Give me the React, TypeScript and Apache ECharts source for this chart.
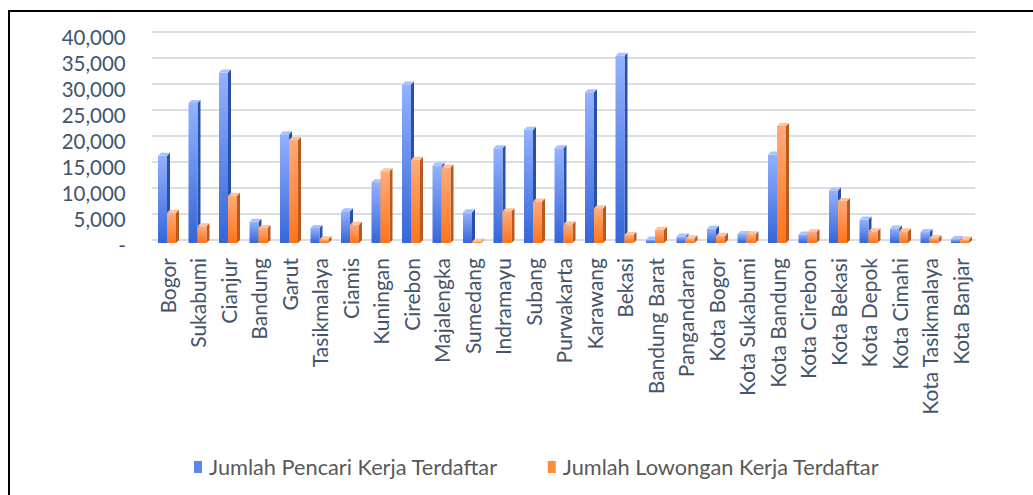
import React, { useEffect, useRef } from "react";
import * as echarts from "echarts";

const categories = [
  "Bogor", "Sukabumi", "Cianjur", "Bandung", "Garut", "Tasikmalaya", "Ciamis",
  "Kuningan", "Cirebon", "Majalengka", "Sumedang", "Indramayu", "Subang",
  "Purwakarta", "Karawang", "Bekasi", "Bandung Barat", "Pangandaran",
  "Kota Bogor", "Kota Sukabumi", "Kota Bandung", "Kota Cirebon", "Kota Bekasi",
  "Kota Depok", "Kota Cimahi", "Kota Tasikmalaya", "Kota Banjar",
];

const pencariKerja = [
  16800, 26900, 32800, 4100, 20900, 2900, 6100, 11700, 30500, 14900, 5900,
  18200, 21800, 18200, 29000, 36000, 650, 1250, 2750, 1750, 17000, 1650, 10100,
  4500, 2800, 2100, 750,
];

const lowonganKerja = [
  5800, 3200, 9100, 2900, 19800, 700, 3500, 13800, 16000, 14500, 250, 6100,
  8000, 3600, 6700, 1550, 2550, 900, 1400, 1700, 22500, 2100, 8100, 2250, 2250,
  950, 650,
];

const yTicks = [0, 5000, 10000, 15000, 20000, 25000, 30000, 35000, 40000];

const seriesNames = ["Jumlah Pencari Kerja Terdaftar", "Jumlah Lowongan Kerja Terdaftar"];

const FONT = "Lato, 'Open Sans', sans-serif";

const palettes = [
  { front0: "#93B2FF", front1: "#3565D8", side: "#2A4FA8", cap: "#A9C1FF" },
  { front0: "#FFAB7C", front1: "#FF7417", side: "#B85A1E", cap: "#FFC29B" },
];

function make3DRender(seriesIndex: number) {
  const p = palettes[seriesIndex];
  return (params: any, api: any) => {
    const idx = api.value(0);
    const v = api.value(1);
    const base = api.coord([idx, 0]);
    const topPt = api.coord([idx, v]);
    const w = 9;
    const d = 3;
    const c = base[0];
    const x0 = seriesIndex === 0 ? c - w : c;
    const yTop = topPt[1] + d;
    const yBot = base[1] + d;
    const h = Math.max(0, yBot - yTop);
    return {
      type: "group",
      children: [
        {
          type: "polygon",
          shape: {
            points: [
              [x0 + w, yTop],
              [x0 + w + d, yTop - d],
              [x0 + w + d, yBot - d],
              [x0 + w, yBot],
            ],
          },
          style: { fill: p.side },
        },
        {
          type: "rect",
          shape: { x: x0, y: yTop, width: w, height: h },
          style: {
            fill: new echarts.graphic.LinearGradient(0, 0, 0, 1, [
              { offset: 0, color: p.front0 },
              { offset: 1, color: p.front1 },
            ]),
          },
        },
        {
          type: "polygon",
          shape: {
            points: [
              [x0, yTop],
              [x0 + d, yTop - d],
              [x0 + w + d, yTop - d],
              [x0 + w, yTop],
            ],
          },
          style: { fill: p.cap },
        },
      ],
    };
  };
}

export default function App() {
  const ref = useRef<HTMLDivElement>(null);

  useEffect(() => {
    if (!ref.current) return;
    const chart = echarts.init(ref.current, null, { renderer: "svg" });
    const seriesData = [pencariKerja, lowonganKerja];
    chart.setOption({
      animation: false,
      backgroundColor: "#ffffff",
      grid: { left: 151.75, right: 57.75, top: 32, bottom: 255, containLabel: false },
      legend: {
        left: 189,
        top: 451,
        itemGap: 50,
        itemWidth: 8,
        itemHeight: 12,
        icon: "rect",
        textStyle: { fontFamily: FONT, fontSize: 21.75, color: "#595959", padding: [0, 0, 0, 2] },
        data: [
          { name: seriesNames[0], itemStyle: { color: "#5B86EE" } },
          { name: seriesNames[1], itemStyle: { color: "#FF8A3D" } },
        ],
      },
      xAxis: {
        type: "category",
        data: categories,
        axisLine: { show: false },
        axisTick: { show: false },
        axisLabel: {
          interval: 0,
          rotate: 90,
          margin: 18,
          fontFamily: FONT,
          fontSize: 21,
          color: "#44546A",
        },
      },
      yAxis: {
        type: "value",
        min: yTicks[0],
        max: yTicks[yTicks.length - 1],
        interval: yTicks[1] - yTicks[0],
        axisLine: { show: false },
        axisTick: { show: false },
        splitLine: { lineStyle: { color: "#DADDE4", width: 2 } },
        axisLabel: {
          margin: 26,
          fontFamily: FONT,
          fontSize: 20.5,
          color: "#44546A",
          verticalAlign: "top",
          lineHeight: 10,
          formatter: (v: number) => (v === 0 ? "-" : v.toLocaleString("en-US")),
        },
      },
      graphic: [
        { type: "line", shape: { x1: 8, y1: 11, x2: 1033, y2: 11 }, style: { stroke: "#000", lineWidth: 2 } },
        { type: "line", shape: { x1: 9, y1: 10, x2: 9, y2: 495 }, style: { stroke: "#000", lineWidth: 2 } },
      ],
      series: seriesData.map((arr, si) => ({
        type: "custom",
        name: seriesNames[si],
        itemStyle: { color: si === 0 ? "#5B86EE" : "#FF8A3D" },
        renderItem: make3DRender(si),
        encode: { x: 0, y: 1 },
        data: arr.map((v, i) => [i, v]),
      })),
    });
    return () => chart.dispose();
  }, []);

  return (
    <div
      ref={ref}
      style={{ position: "fixed", left: 0, top: 0, width: 1033, height: 495 }}
    />
  );
}
